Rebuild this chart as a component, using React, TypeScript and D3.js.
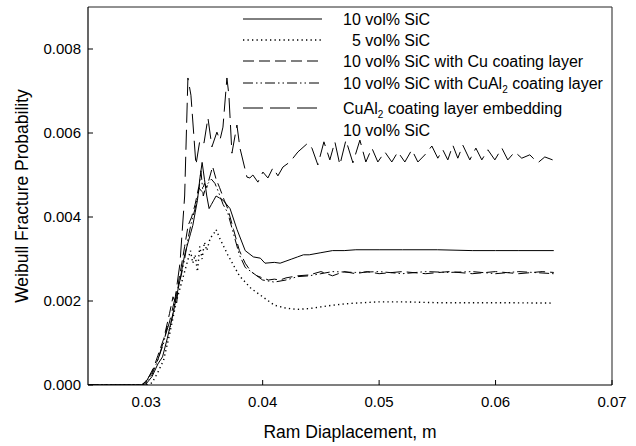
import React from "react";
import * as d3 from "d3";

const W = 636;
const H = 446;

// Series: x in m (ram displacement), y = Weibull fracture probability
const sic10X = [0.025, 0.0296, 0.03, 0.0305, 0.031, 0.0314, 0.0318, 0.0323, 0.0326, 0.0329, 0.0333, 0.0336, 0.0338, 0.034, 0.0342, 0.0344, 0.0346, 0.0348, 0.035, 0.0352, 0.0354, 0.0356, 0.0358, 0.036, 0.0363, 0.0366, 0.0372, 0.0378, 0.0385, 0.0392, 0.0398, 0.0402, 0.041, 0.0415, 0.042, 0.0425, 0.043, 0.0435, 0.044, 0.045, 0.046, 0.047, 0.048, 0.05, 0.052, 0.055, 0.058, 0.06, 0.062, 0.065];
const sic10Y = [0, 0, 0.00003, 0.0002, 0.0005, 0.00067, 0.0011, 0.0017, 0.0021, 0.0025, 0.0031, 0.0034, 0.0036, 0.0038, 0.0041, 0.0044, 0.0049, 0.0053, 0.0049, 0.0045, 0.0042, 0.0043, 0.0044, 0.0045, 0.00445, 0.0044, 0.0042, 0.0037, 0.0032, 0.00305, 0.00302, 0.0029, 0.00292, 0.0029, 0.00295, 0.003, 0.00305, 0.0031, 0.0031, 0.00315, 0.0032, 0.0032, 0.00322, 0.00322, 0.00322, 0.00322, 0.0032, 0.0032, 0.0032, 0.0032];

const sic5X = [0.025, 0.03, 0.0305, 0.031, 0.0315, 0.032, 0.0326, 0.033, 0.0334, 0.0338, 0.034, 0.0342, 0.0344, 0.0346, 0.0348, 0.035, 0.0352, 0.0355, 0.0358, 0.036, 0.0363, 0.037, 0.0375, 0.038, 0.039, 0.04, 0.041, 0.042, 0.043, 0.044, 0.045, 0.046, 0.047, 0.048, 0.05, 0.052, 0.055, 0.058, 0.06, 0.065];
const sic5Y = [0, 0, 0.00005, 0.0003, 0.0006, 0.0012, 0.002, 0.0024, 0.0028, 0.0032, 0.0029, 0.0031, 0.0027, 0.0033, 0.003, 0.0034, 0.0032, 0.0035, 0.0036, 0.0037, 0.0035, 0.0031, 0.00285, 0.0026, 0.0023, 0.0021, 0.0019, 0.00183, 0.0018, 0.00182, 0.00186, 0.0019, 0.00193, 0.00195, 0.00198, 0.00198, 0.00196, 0.00196, 0.00196, 0.00195];

const cuX = [0.025, 0.0296, 0.03, 0.0305, 0.031, 0.0315, 0.032, 0.0323, 0.0326, 0.0328, 0.033, 0.0333, 0.0336, 0.0339, 0.0342, 0.0345, 0.0348, 0.035, 0.0352, 0.0355, 0.0357, 0.036, 0.0363, 0.0367, 0.037, 0.0375, 0.038, 0.0385, 0.039, 0.0395, 0.04, 0.0405, 0.041, 0.0415, 0.042, 0.043, 0.044, 0.045, 0.046, 0.047, 0.048, 0.049, 0.05, 0.052, 0.054, 0.056, 0.058, 0.06, 0.062, 0.064, 0.065];
const cuY = [0, 0, 0.0001, 0.0003, 0.0007, 0.0011, 0.0017, 0.0021, 0.0019, 0.0025, 0.0028, 0.0033, 0.0038, 0.004, 0.0043, 0.0047, 0.0046, 0.0048, 0.0047, 0.005, 0.0052, 0.0049, 0.0047, 0.0044, 0.0042, 0.0037, 0.0032, 0.0029, 0.0027, 0.0026, 0.00255, 0.0025, 0.00252, 0.0025, 0.00255, 0.0026, 0.00262, 0.0027, 0.0026, 0.0027, 0.00265, 0.0027, 0.00265, 0.0027, 0.00265, 0.0027, 0.00265, 0.0027, 0.00265, 0.0027, 0.00268];

const cual2X = [0.025, 0.0296, 0.03, 0.0305, 0.031, 0.0315, 0.0318, 0.032, 0.0323, 0.0326, 0.033, 0.0333, 0.0336, 0.0339, 0.0342, 0.0345, 0.0347, 0.0349, 0.0351, 0.0353, 0.0356, 0.0359, 0.0362, 0.0366, 0.037, 0.0375, 0.038, 0.0385, 0.039, 0.0395, 0.04, 0.041, 0.042, 0.043, 0.044, 0.045, 0.046, 0.048, 0.05, 0.052, 0.054, 0.056, 0.058, 0.06, 0.062, 0.065];
const cual2Y = [0, 0, 0.00008, 0.00025, 0.0006, 0.001, 0.0014, 0.0013, 0.0017, 0.0022, 0.0026, 0.003, 0.0035, 0.0039, 0.0042, 0.0046, 0.0051, 0.0045, 0.0047, 0.0048, 0.0049, 0.0048, 0.0046, 0.0043, 0.0041, 0.0036, 0.0031, 0.0028, 0.0027, 0.0026, 0.0025, 0.00245, 0.0025, 0.00258, 0.0026, 0.00265, 0.0027, 0.00268, 0.0027, 0.00265, 0.0027, 0.00268, 0.0027, 0.00265, 0.0027, 0.00265];

const embedX = [0.025, 0.0296, 0.03, 0.031, 0.032, 0.0325, 0.0329, 0.0333, 0.03358, 0.03384, 0.03427, 0.03461, 0.03496, 0.0353, 0.03564, 0.03607, 0.03633, 0.03659, 0.03693, 0.0371, 0.03736, 0.03779, 0.03805, 0.03865, 0.0389, 0.03916, 0.03959, 0.04002, 0.04045, 0.04088, 0.04131, 0.04174, 0.04234, 0.04303, 0.04388, 0.04423, 0.04474, 0.04526, 0.04577, 0.0462, 0.04663, 0.04715, 0.04775, 0.04835, 0.04886, 0.04938, 0.04989, 0.05049, 0.05109, 0.05161, 0.05221, 0.05281, 0.05333, 0.05393, 0.05453, 0.05504, 0.05547, 0.0559, 0.05633, 0.05676, 0.05719, 0.05779, 0.05831, 0.05882, 0.05934, 0.05994, 0.06054, 0.06105, 0.06165, 0.06225, 0.06294, 0.06363, 0.06423, 0.0649];
const embedY = [0, 0, 0.00008, 0.0006, 0.0015, 0.0021, 0.0029, 0.0045, 0.00731, 0.0069, 0.00524, 0.00583, 0.00576, 0.00636, 0.00567, 0.00602, 0.00583, 0.00614, 0.00731, 0.0069, 0.00552, 0.00619, 0.00564, 0.00495, 0.00493, 0.005, 0.00483, 0.00507, 0.00493, 0.00517, 0.00498, 0.00519, 0.00531, 0.00555, 0.00576, 0.00564, 0.00524, 0.00579, 0.00536, 0.00579, 0.00524, 0.00583, 0.00529, 0.00583, 0.00531, 0.00564, 0.00531, 0.00555, 0.00531, 0.00555, 0.00531, 0.0056, 0.00531, 0.00548, 0.00569, 0.0054, 0.0056, 0.00536, 0.00571, 0.0054, 0.00571, 0.00536, 0.00564, 0.00536, 0.0056, 0.00536, 0.00564, 0.00536, 0.00555, 0.0054, 0.00548, 0.00529, 0.00543, 0.00536];

const xTicks = [0.03, 0.04, 0.05, 0.06, 0.07];
const yTicks = [0, 0.002, 0.004, 0.006, 0.008];
const xTickLabels = ["0.03", "0.04", "0.05", "0.06", "0.07"];
const yTickLabels = ["0.000", "0.002", "0.004", "0.006", "0.008"];

const xTitle = "Ram Diaplacement, m";
const yTitle = "Weibull Fracture Probability";

const seriesDash = ["", "1.3,3.2", "11,5", "10,3,1.5,3,1.5,3", "20,7"];
const seriesWidth = [1, 1.4, 1, 1, 1];

export default function App() {
  const left = 88, right = 612, top = 7, bottom = 385;
  const x = d3.scaleLinear().domain([0.025, 0.07]).range([left, right]);
  const y = d3.scaleLinear().domain([0, 0.009]).range([bottom, top]);

  const mk = (xs: number[], ys: number[]) =>
    d3.line<number>().x((_, i) => x(xs[i])).y((_, i) => y(ys[i]))(xs) || "";

  const paths = [
    mk(sic10X, sic10Y),
    mk(sic5X, sic5Y),
    mk(cuX, cuY),
    mk(cual2X, cual2Y),
    mk(embedX, embedY),
  ];

  const font = "Liberation Sans, Arial, Helvetica, sans-serif";
  const legendRows = [19, 40, 61, 83, 108];
  const lx1 = 243, lx2 = 322, tx = 343, lf = 16;

  return (
    <div style={{ position: "absolute", left: 0, top: 0 }}>
      <svg width={W} height={H} style={{ display: "block", background: "#fff" }} fontFamily={font}>
        <defs>
          <clipPath id="plot">
            <rect x={left} y={top} width={right - left} height={bottom - top} />
          </clipPath>
        </defs>
        {/* frame */}
        <line x1={left} y1={top} x2={right} y2={top} stroke="#222" strokeWidth={1} />
        <line x1={right} y1={top} x2={right} y2={bottom} stroke="#444" strokeWidth={1.2} />
        <line x1={left} y1={top} x2={left} y2={bottom} stroke="#000" strokeWidth={1.2} />
        <line x1={left} y1={bottom} x2={right} y2={bottom} stroke="#000" strokeWidth={1.2} />
        {/* ticks */}
        {xTicks.map((t, i) => (
          <g key={"xt" + i}>
            <line x1={x(t)} x2={x(t)} y1={bottom} y2={bottom - 5} stroke="#000" />
            <text x={x(t)} y={407} fontSize={15} textAnchor="middle" fill="#000">{xTickLabels[i]}</text>
          </g>
        ))}
        {yTicks.map((t, i) => (
          <g key={"yt" + i}>
            <line x1={left} x2={left + 5} y1={y(t)} y2={y(t)} stroke="#000" />
            <text x={81} y={y(t) + 5} fontSize={15} textAnchor="end" fill="#000">{yTickLabels[i]}</text>
          </g>
        ))}
        {/* axis titles */}
        <text x={(left + right) / 2} y={438} fontSize={17.5} textAnchor="middle" fill="#000">{xTitle}</text>
        <text transform={`translate(28,${(top + bottom) / 2}) rotate(-90)`} fontSize={17.5} textAnchor="middle" fill="#000">{yTitle}</text>
        {/* series */}
        <g clipPath="url(#plot)">
          {paths.map((d, i) => (
            <path key={"s" + i} d={d} fill="none" stroke="#000" strokeWidth={seriesWidth[i]} strokeDasharray={seriesDash[i] || undefined} />
          ))}
        </g>
        {/* legend */}
        {legendRows.map((ry, i) => (
          <line key={"ll" + i} x1={lx1} x2={lx2} y1={ry} y2={ry} stroke="#000" strokeWidth={seriesWidth[i]} strokeDasharray={seriesDash[i] || undefined} />
        ))}
        <text x={tx} y={legendRows[0] + 5.5} fontSize={lf} fill="#000">10 vol% SiC</text>
        <text x={tx} y={legendRows[1] + 5.5} fontSize={lf} fill="#000" style={{ whiteSpace: "pre" }}>{"  5 vol% SiC"}</text>
        <text x={tx} y={legendRows[2] + 5.5} fontSize={lf} fill="#000">10 vol% SiC with Cu coating layer</text>
        <text x={tx} y={legendRows[3] + 5.5} fontSize={lf} fill="#000">
          10 vol% SiC with CuAl<tspan fontSize={10} dy={4}>2</tspan><tspan dy={-4}> coating layer</tspan>
        </text>
        <text x={tx} y={legendRows[4] + 5.5} fontSize={lf} fill="#000">
          CuAl<tspan fontSize={10} dy={4}>2</tspan><tspan dy={-4}> coating layer embedding</tspan>
        </text>
        <text x={tx} y={130 + 5.5} fontSize={lf} fill="#000">10 vol% SiC</text>
      </svg>
    </div>
  );
}
